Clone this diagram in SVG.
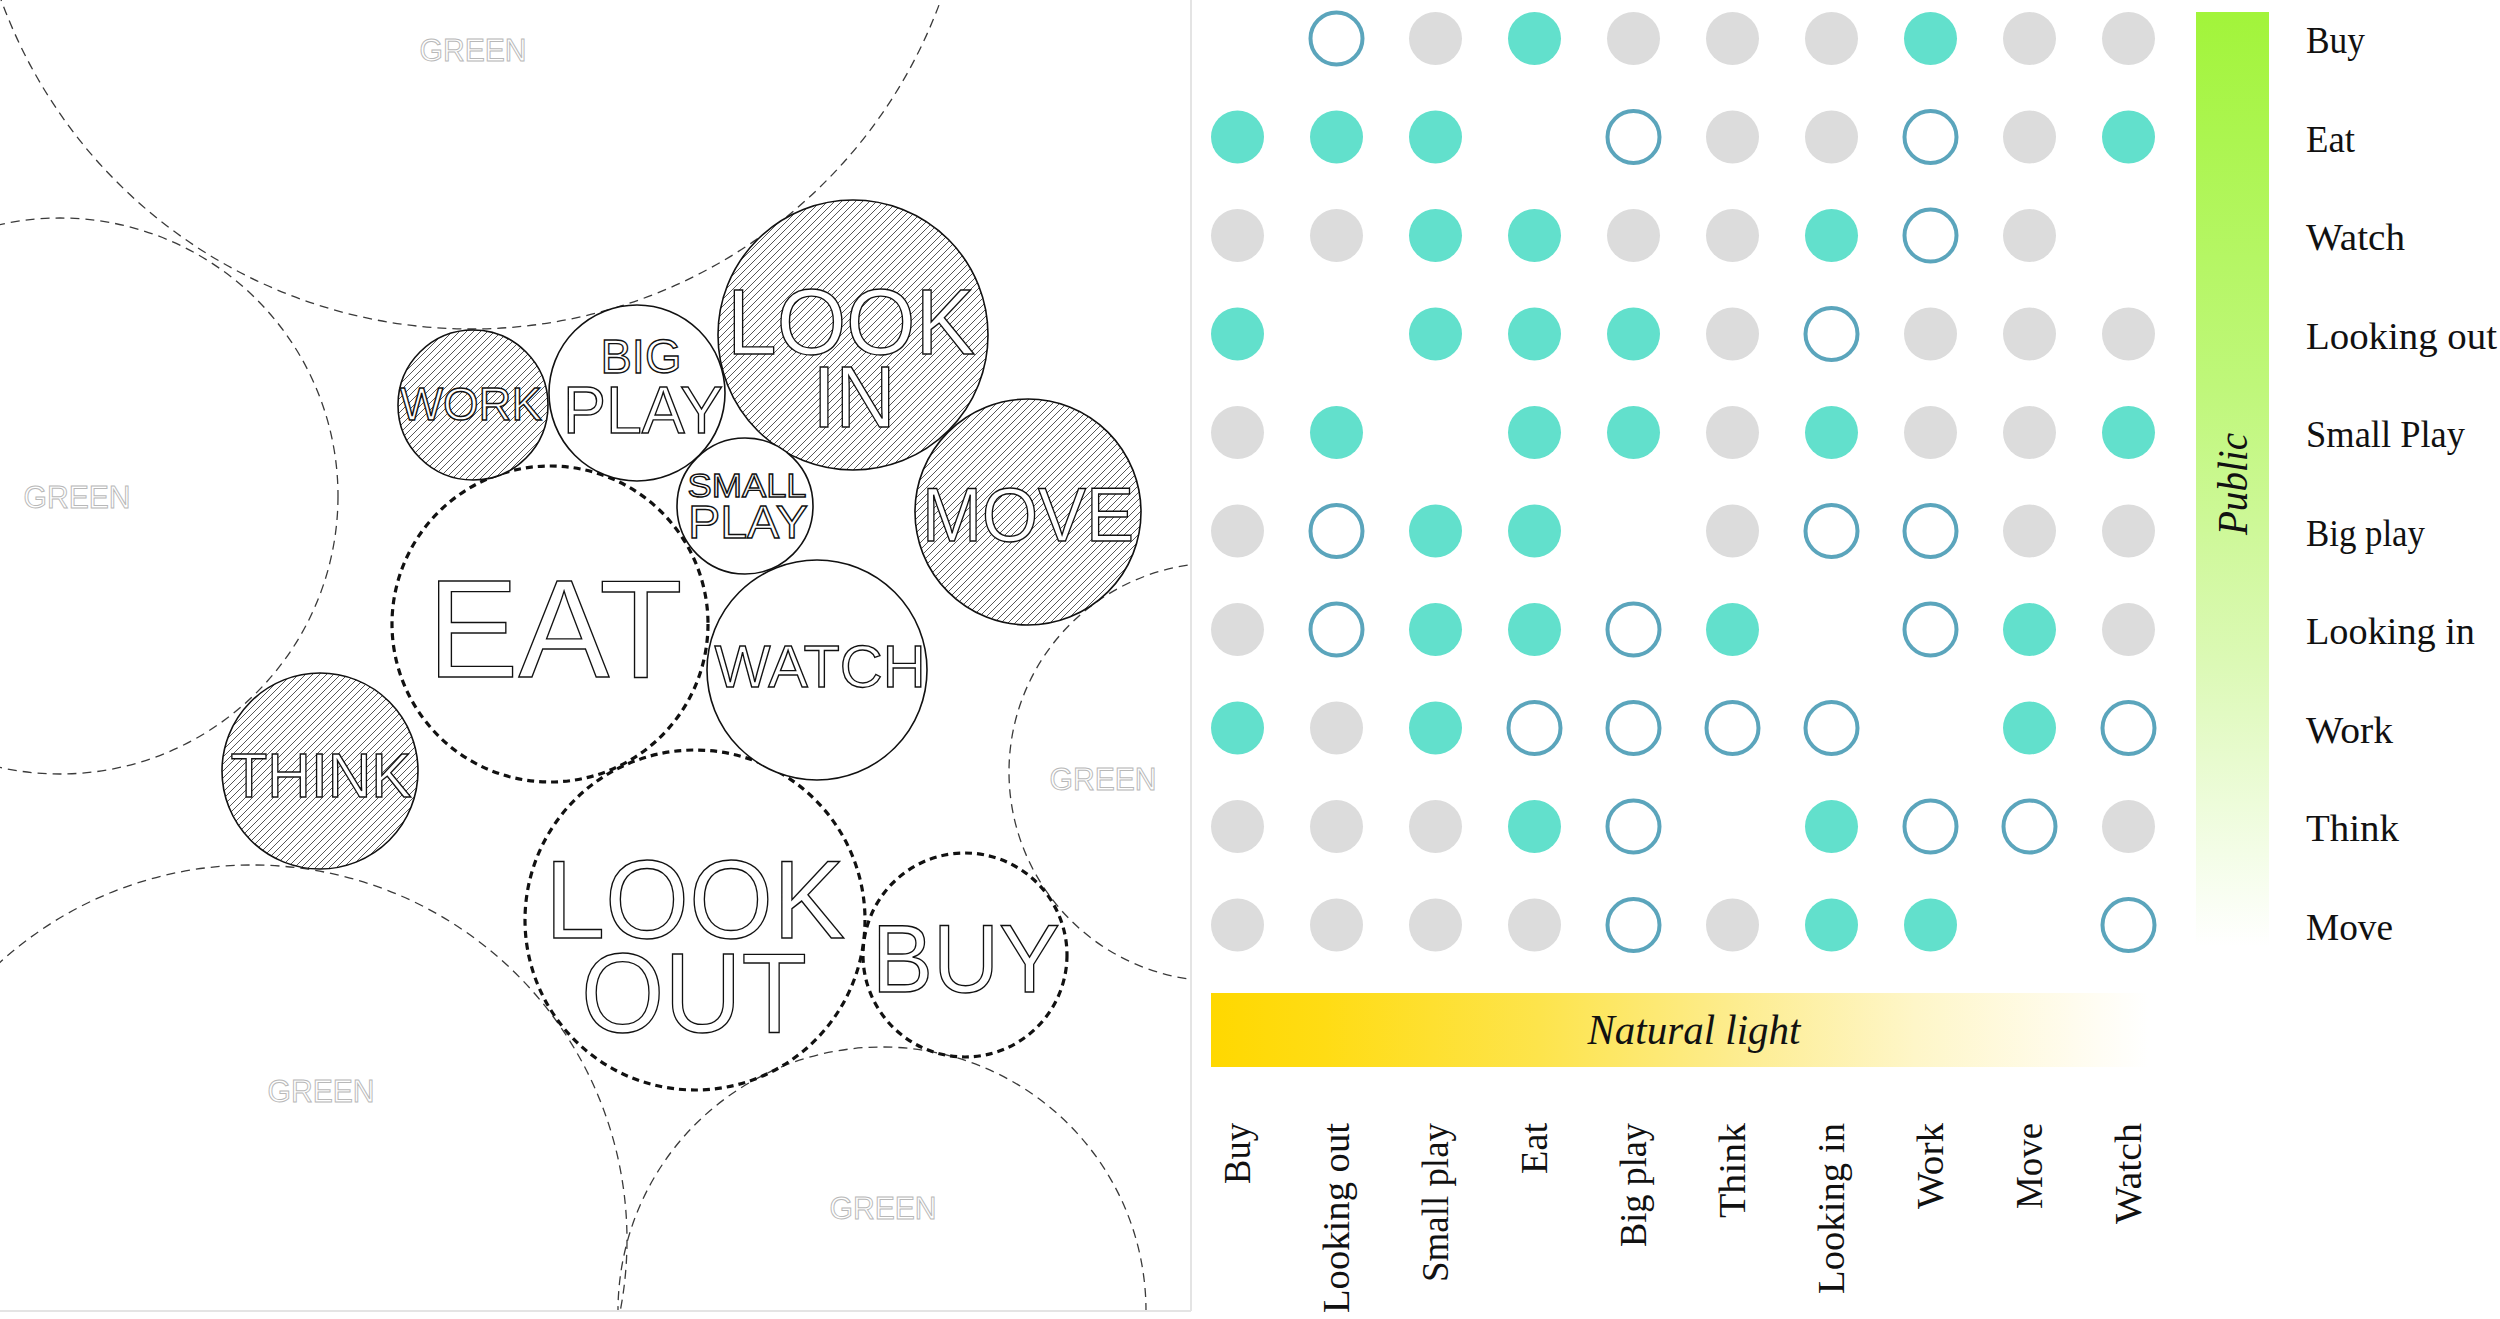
<svg xmlns="http://www.w3.org/2000/svg" width="2500" height="1319" viewBox="0 0 2500 1319">
<defs>
<style>
.gc{fill:none;stroke:#3a3a3a;stroke-width:1.3;stroke-dasharray:9 6}
.dc{fill:none;stroke:#111;stroke-width:3.2;stroke-dasharray:7 5}
.sc{stroke:#111;stroke-width:1.6}
.hat{fill:url(#hatch)}
.wht{fill:#fff}
.lab{font-family:"Liberation Sans",Arial,sans-serif;fill:#fff;stroke:#111;stroke-width:1.4;text-anchor:middle}
.grn{font-family:"Liberation Sans",Arial,sans-serif;font-size:32px;fill:#fff;stroke:#b8b8b8;stroke-width:1;text-anchor:middle}
.t{fill:#62e0cc}
.g{fill:#dcdcdc}
.o{fill:none;stroke:#5ba5bc;stroke-width:4}
.rl{font-family:"Liberation Serif","Times New Roman",serif;font-size:38px;fill:#111}
.cl{font-family:"Liberation Serif","Times New Roman",serif;font-size:38px;fill:#111;text-anchor:end}
.it{font-family:"Liberation Serif","Times New Roman",serif;font-style:italic;font-size:42px;fill:#111;text-anchor:middle}
</style>
<pattern id="hatch" patternUnits="userSpaceOnUse" width="7" height="7">
<rect width="7" height="7" fill="#fff"/>
<path d="M-1,1 L1,-1 M0,7 L7,0 M6,8 L8,6" stroke="#444" stroke-width="0.9"/>
</pattern>
<clipPath id="panel"><rect x="0" y="0" width="1191" height="1311"/></clipPath>
<linearGradient id="ygrad" x1="0" y1="0" x2="1" y2="0">
<stop offset="0" stop-color="#ffd800"/>
<stop offset="0.12" stop-color="#ffdc14"/>
<stop offset="0.35" stop-color="#fde44c"/>
<stop offset="0.55" stop-color="#fdec8c"/>
<stop offset="0.75" stop-color="#fef6c8"/>
<stop offset="0.92" stop-color="#fffcee"/>
<stop offset="1" stop-color="#ffffff"/>
</linearGradient>
<linearGradient id="ggrad" x1="0" y1="0" x2="0" y2="1">
<stop offset="0" stop-color="#a2f43a"/>
<stop offset="0.4" stop-color="#bff77a"/>
<stop offset="0.7" stop-color="#dcf9b6"/>
<stop offset="1" stop-color="#ffffff"/>
</linearGradient>
</defs>
<rect width="2500" height="1319" fill="#fff"/>

<g id="left-panel" clip-path="url(#panel)">
<g id="green-areas">
<circle class="gc" cx="471" cy="-171" r="500"/>
<circle class="gc" cx="60" cy="496" r="278"/>
<circle class="gc" cx="252" cy="1240" r="375"/>
<circle class="gc" cx="882" cy="1311" r="264"/>
<circle class="gc" cx="1218" cy="772" r="209"/>
<text class="grn" x="473" y="61" textLength="107" lengthAdjust="spacingAndGlyphs">GREEN</text>
<text class="grn" x="77" y="508" textLength="107" lengthAdjust="spacingAndGlyphs">GREEN</text>
<text class="grn" x="1103" y="790" textLength="107" lengthAdjust="spacingAndGlyphs">GREEN</text>
<text class="grn" x="321" y="1102" textLength="107" lengthAdjust="spacingAndGlyphs">GREEN</text>
<text class="grn" x="883" y="1219" textLength="107" lengthAdjust="spacingAndGlyphs">GREEN</text>
</g>
<g id="node-eat">
<circle class="dc" cx="550" cy="624" r="158"/>
<text class="lab" x="555" y="677" font-size="140" textLength="255" lengthAdjust="spacingAndGlyphs">EAT</text>
</g>
<g id="node-lookout">
<circle class="dc" cx="695" cy="920" r="170"/>
<text class="lab" x="695" y="938" font-size="112" textLength="300" lengthAdjust="spacingAndGlyphs">LOOK</text>
<text class="lab" x="694" y="1032" font-size="114" textLength="226" lengthAdjust="spacingAndGlyphs">OUT</text>
</g>
<g id="node-buy">
<circle class="dc" cx="965" cy="955" r="102"/>
<text class="lab" x="966" y="992" font-size="97" textLength="188" lengthAdjust="spacingAndGlyphs">BUY</text>
</g>
<g id="node-work">
<circle class="sc hat" cx="473" cy="405" r="75"/>
<text class="lab" x="471" y="420" font-size="46" textLength="142" lengthAdjust="spacingAndGlyphs">WORK</text>
</g>
<g id="node-bigplay">
<circle class="sc wht" cx="637" cy="393" r="88"/>
<text class="lab" x="641" y="373" font-size="49" textLength="81" lengthAdjust="spacingAndGlyphs">BIG</text>
<text class="lab" x="643" y="433" font-size="66" textLength="160" lengthAdjust="spacingAndGlyphs">PLAY</text>
</g>
<g id="node-lookin">
<circle class="sc hat" cx="853" cy="335" r="135"/>
<text class="lab" x="851" y="354" font-size="92" textLength="248" lengthAdjust="spacingAndGlyphs">LOOK</text>
<text class="lab" x="854" y="427" font-size="88" textLength="83" lengthAdjust="spacingAndGlyphs">IN</text>
</g>
<g id="node-smallplay">
<circle class="sc wht" cx="745" cy="506" r="68"/>
<text class="lab" x="747" y="497" font-size="34" stroke-width="1.2" textLength="119" lengthAdjust="spacingAndGlyphs">SMALL</text>
<text class="lab" x="748" y="538" font-size="47" stroke-width="1.2" textLength="120" lengthAdjust="spacingAndGlyphs">PLAY</text>
</g>
<g id="node-move">
<circle class="sc hat" cx="1028" cy="512" r="113"/>
<text class="lab" x="1028" y="541" font-size="76" textLength="212" lengthAdjust="spacingAndGlyphs">MOVE</text>
</g>
<g id="node-watch">
<circle class="sc wht" cx="817" cy="670" r="110"/>
<text class="lab" x="820" y="687" font-size="60" textLength="211" lengthAdjust="spacingAndGlyphs">WATCH</text>
</g>
<g id="node-think">
<circle class="sc hat" cx="320" cy="771" r="98"/>
<text class="lab" x="321" y="797" font-size="63" textLength="181" lengthAdjust="spacingAndGlyphs">THINK</text>
</g>
</g>
<g id="panel-border" stroke="#e4e4e4" stroke-width="2">
<line x1="1191" y1="0" x2="1191" y2="1311"/>
<line x1="0" y1="1311" x2="1191" y2="1311"/>
</g>

<g id="matrix">
<circle class="o" cx="1336.5" cy="38.5" r="26"/><circle class="g" cx="1435.5" cy="38.5" r="26.5"/><circle class="t" cx="1534.5" cy="38.5" r="26.5"/><circle class="g" cx="1633.5" cy="38.5" r="26.5"/><circle class="g" cx="1732.5" cy="38.5" r="26.5"/><circle class="g" cx="1831.5" cy="38.5" r="26.5"/><circle class="t" cx="1930.5" cy="38.5" r="26.5"/><circle class="g" cx="2029.5" cy="38.5" r="26.5"/><circle class="g" cx="2128.5" cy="38.5" r="26.5"/>
<circle class="t" cx="1237.5" cy="137" r="26.5"/><circle class="t" cx="1336.5" cy="137" r="26.5"/><circle class="t" cx="1435.5" cy="137" r="26.5"/><circle class="o" cx="1633.5" cy="137" r="26"/><circle class="g" cx="1732.5" cy="137" r="26.5"/><circle class="g" cx="1831.5" cy="137" r="26.5"/><circle class="o" cx="1930.5" cy="137" r="26"/><circle class="g" cx="2029.5" cy="137" r="26.5"/><circle class="t" cx="2128.5" cy="137" r="26.5"/>
<circle class="g" cx="1237.5" cy="235.5" r="26.5"/><circle class="g" cx="1336.5" cy="235.5" r="26.5"/><circle class="t" cx="1435.5" cy="235.5" r="26.5"/><circle class="t" cx="1534.5" cy="235.5" r="26.5"/><circle class="g" cx="1633.5" cy="235.5" r="26.5"/><circle class="g" cx="1732.5" cy="235.5" r="26.5"/><circle class="t" cx="1831.5" cy="235.5" r="26.5"/><circle class="o" cx="1930.5" cy="235.5" r="26"/><circle class="g" cx="2029.5" cy="235.5" r="26.5"/>
<circle class="t" cx="1237.5" cy="334" r="26.5"/><circle class="t" cx="1435.5" cy="334" r="26.5"/><circle class="t" cx="1534.5" cy="334" r="26.5"/><circle class="t" cx="1633.5" cy="334" r="26.5"/><circle class="g" cx="1732.5" cy="334" r="26.5"/><circle class="o" cx="1831.5" cy="334" r="26"/><circle class="g" cx="1930.5" cy="334" r="26.5"/><circle class="g" cx="2029.5" cy="334" r="26.5"/><circle class="g" cx="2128.5" cy="334" r="26.5"/>
<circle class="g" cx="1237.5" cy="432.5" r="26.5"/><circle class="t" cx="1336.5" cy="432.5" r="26.5"/><circle class="t" cx="1534.5" cy="432.5" r="26.5"/><circle class="t" cx="1633.5" cy="432.5" r="26.5"/><circle class="g" cx="1732.5" cy="432.5" r="26.5"/><circle class="t" cx="1831.5" cy="432.5" r="26.5"/><circle class="g" cx="1930.5" cy="432.5" r="26.5"/><circle class="g" cx="2029.5" cy="432.5" r="26.5"/><circle class="t" cx="2128.5" cy="432.5" r="26.5"/>
<circle class="g" cx="1237.5" cy="531" r="26.5"/><circle class="o" cx="1336.5" cy="531" r="26"/><circle class="t" cx="1435.5" cy="531" r="26.5"/><circle class="t" cx="1534.5" cy="531" r="26.5"/><circle class="g" cx="1732.5" cy="531" r="26.5"/><circle class="o" cx="1831.5" cy="531" r="26"/><circle class="o" cx="1930.5" cy="531" r="26"/><circle class="g" cx="2029.5" cy="531" r="26.5"/><circle class="g" cx="2128.5" cy="531" r="26.5"/>
<circle class="g" cx="1237.5" cy="629.5" r="26.5"/><circle class="o" cx="1336.5" cy="629.5" r="26"/><circle class="t" cx="1435.5" cy="629.5" r="26.5"/><circle class="t" cx="1534.5" cy="629.5" r="26.5"/><circle class="o" cx="1633.5" cy="629.5" r="26"/><circle class="t" cx="1732.5" cy="629.5" r="26.5"/><circle class="o" cx="1930.5" cy="629.5" r="26"/><circle class="t" cx="2029.5" cy="629.5" r="26.5"/><circle class="g" cx="2128.5" cy="629.5" r="26.5"/>
<circle class="t" cx="1237.5" cy="728" r="26.5"/><circle class="g" cx="1336.5" cy="728" r="26.5"/><circle class="t" cx="1435.5" cy="728" r="26.5"/><circle class="o" cx="1534.5" cy="728" r="26"/><circle class="o" cx="1633.5" cy="728" r="26"/><circle class="o" cx="1732.5" cy="728" r="26"/><circle class="o" cx="1831.5" cy="728" r="26"/><circle class="t" cx="2029.5" cy="728" r="26.5"/><circle class="o" cx="2128.5" cy="728" r="26"/>
<circle class="g" cx="1237.5" cy="826.5" r="26.5"/><circle class="g" cx="1336.5" cy="826.5" r="26.5"/><circle class="g" cx="1435.5" cy="826.5" r="26.5"/><circle class="t" cx="1534.5" cy="826.5" r="26.5"/><circle class="o" cx="1633.5" cy="826.5" r="26"/><circle class="t" cx="1831.5" cy="826.5" r="26.5"/><circle class="o" cx="1930.5" cy="826.5" r="26"/><circle class="o" cx="2029.5" cy="826.5" r="26"/><circle class="g" cx="2128.5" cy="826.5" r="26.5"/>
<circle class="g" cx="1237.5" cy="925" r="26.5"/><circle class="g" cx="1336.5" cy="925" r="26.5"/><circle class="g" cx="1435.5" cy="925" r="26.5"/><circle class="g" cx="1534.5" cy="925" r="26.5"/><circle class="o" cx="1633.5" cy="925" r="26"/><circle class="g" cx="1732.5" cy="925" r="26.5"/><circle class="t" cx="1831.5" cy="925" r="26.5"/><circle class="t" cx="1930.5" cy="925" r="26.5"/><circle class="o" cx="2128.5" cy="925" r="26"/>
</g>

<g id="public-axis">
<rect x="2196" y="12" width="73" height="934" fill="url(#ggrad)"/>
<text class="it" font-size="40" transform="translate(2247 484) rotate(-90)" textLength="102" lengthAdjust="spacingAndGlyphs">Public</text>
</g>
<g id="row-labels">
<text class="rl" x="2306" y="53" textLength="59" lengthAdjust="spacingAndGlyphs">Buy</text>
<text class="rl" x="2306" y="151.5" textLength="49" lengthAdjust="spacingAndGlyphs">Eat</text>
<text class="rl" x="2306" y="250" textLength="99" lengthAdjust="spacingAndGlyphs">Watch</text>
<text class="rl" x="2306" y="348.5" textLength="191" lengthAdjust="spacingAndGlyphs">Looking out</text>
<text class="rl" x="2306" y="447" textLength="159" lengthAdjust="spacingAndGlyphs">Small Play</text>
<text class="rl" x="2306" y="545.5" textLength="119" lengthAdjust="spacingAndGlyphs">Big play</text>
<text class="rl" x="2306" y="644" textLength="169" lengthAdjust="spacingAndGlyphs">Looking in</text>
<text class="rl" x="2306" y="742.5" textLength="87" lengthAdjust="spacingAndGlyphs">Work</text>
<text class="rl" x="2306" y="841" textLength="93" lengthAdjust="spacingAndGlyphs">Think</text>
<text class="rl" x="2306" y="939.5" textLength="87" lengthAdjust="spacingAndGlyphs">Move</text>
</g>
<g id="light-axis">
<rect x="1211" y="993" width="938" height="74" fill="url(#ygrad)"/>
<text class="it" x="1694" y="1044" textLength="213" lengthAdjust="spacingAndGlyphs">Natural light</text>
</g>
<g id="col-labels">
<text class="cl" transform="translate(1250 1123) rotate(-90)" textLength="61" lengthAdjust="spacingAndGlyphs">Buy</text>
<text class="cl" transform="translate(1349 1123) rotate(-90)" textLength="190" lengthAdjust="spacingAndGlyphs">Looking out</text>
<text class="cl" transform="translate(1448 1123) rotate(-90)" textLength="159" lengthAdjust="spacingAndGlyphs">Small play</text>
<text class="cl" transform="translate(1547 1123) rotate(-90)" textLength="51" lengthAdjust="spacingAndGlyphs">Eat</text>
<text class="cl" transform="translate(1646 1123) rotate(-90)" textLength="124" lengthAdjust="spacingAndGlyphs">Big play</text>
<text class="cl" transform="translate(1745 1123) rotate(-90)" textLength="95" lengthAdjust="spacingAndGlyphs">Think</text>
<text class="cl" transform="translate(1844 1123) rotate(-90)" textLength="171" lengthAdjust="spacingAndGlyphs">Looking in</text>
<text class="cl" transform="translate(1943 1123) rotate(-90)" textLength="86" lengthAdjust="spacingAndGlyphs">Work</text>
<text class="cl" transform="translate(2042 1123) rotate(-90)" textLength="86" lengthAdjust="spacingAndGlyphs">Move</text>
<text class="cl" transform="translate(2141 1123) rotate(-90)" textLength="101" lengthAdjust="spacingAndGlyphs">Watch</text>
</g>
</svg>
